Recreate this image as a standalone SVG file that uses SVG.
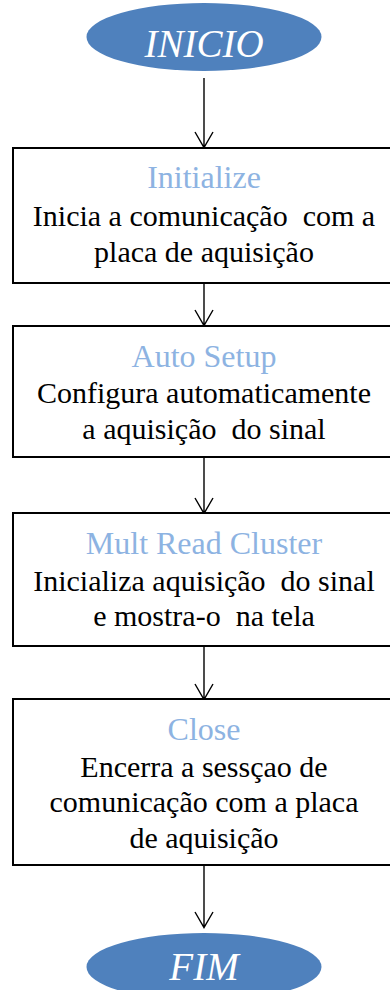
<svg xmlns="http://www.w3.org/2000/svg" width="390" height="990" viewBox="0 0 390 990">
<style>
.bg{fill:#ffffff}
.term{fill:#4F81BD;stroke:none}
.tt{font-family:"Liberation Serif",serif;font-style:italic;font-size:39px;fill:#ffffff;text-anchor:middle}
.box{fill:#ffffff;stroke:#000000;stroke-width:2}
.lbl{font-family:"Liberation Serif",serif;text-anchor:middle}
.hd{font-size:32px;fill:#8DB3E2}
.desc{font-size:30px;fill:#000000}
.conn{stroke:#000000;stroke-width:1.4;fill:none}
</style>
<rect class="bg" x="0" y="0" width="390" height="990"/>
<g id="connectors">
  <path class="conn" d="M204,78 V147 M195,132 L204,147.5 L213,132"/>
  <path class="conn" d="M204,284 V325 M195,310 L204,325.5 L213,310"/>
  <path class="conn" d="M204,457 V513 M195,498 L204,513.5 L213,498"/>
  <path class="conn" d="M204,646 V699 M195,684 L204,699.5 L213,684"/>
  <path class="conn" d="M204,866 V927 M195,912 L204,927.5 L213,912"/>
</g>
<g id="inicio">
  <ellipse class="term" cx="204" cy="37" rx="117.5" ry="34"/>
  <text class="tt" x="204" y="57">INICIO</text>
</g>
<g id="initialize">
  <rect class="box" x="13" y="148" width="382" height="135"/>
  <text class="lbl" xml:space="preserve"><tspan class="hd" x="204" y="188">Initialize</tspan><tspan class="desc" x="204" y="226">Inicia a comunicação  com a</tspan><tspan class="desc" x="204" y="262">placa de aquisição</tspan></text>
</g>
<g id="autosetup">
  <rect class="box" x="13" y="326" width="382" height="131"/>
  <text class="lbl" xml:space="preserve"><tspan class="hd" x="204" y="367">Auto Setup</tspan><tspan class="desc" x="204" y="403">Configura automaticamente</tspan><tspan class="desc" x="204" y="439">a aquisição  do sinal</tspan></text>
</g>
<g id="multread">
  <rect class="box" x="13" y="513" width="382" height="133"/>
  <text class="lbl" xml:space="preserve"><tspan class="hd" x="204" y="554">Mult Read Cluster</tspan><tspan class="desc" x="204" y="591">Inicializa aquisição  do sinal</tspan><tspan class="desc" x="204" y="626">e mostra-o  na tela</tspan></text>
</g>
<g id="close">
  <rect class="box" x="13" y="699" width="382" height="166"/>
  <text class="lbl" xml:space="preserve"><tspan class="hd" x="204" y="740">Close</tspan><tspan class="desc" x="204" y="777">Encerra a sessçao de</tspan><tspan class="desc" x="204" y="812">comunicação com a placa</tspan><tspan class="desc" x="204" y="848">de aquisição</tspan></text>
</g>
<g id="fim">
  <ellipse class="term" cx="204" cy="967" rx="117.5" ry="34"/>
  <text class="tt" x="204" y="980">FIM</text>
</g>
</svg>
